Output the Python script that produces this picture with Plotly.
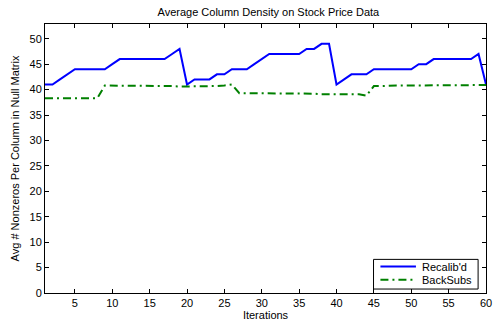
import plotly.graph_objects as go

iterations = list(range(1, 61))
recalib = [41, 41, 42, 43, 44, 44, 44, 44, 44, 45,
           46, 46, 46, 46, 46, 46, 46, 47, 48, 41,
           42, 42, 42, 43, 43, 44, 44, 44, 45, 46,
           47, 47, 47, 47, 47, 48, 48, 49, 49, 41,
           42, 43, 43, 43, 44, 44, 44, 44, 44, 44,
           45, 45, 46, 46, 46, 46, 46, 46, 47, 41]
backsubs = [38.3, 38.3, 38.3, 38.3, 38.3, 38.3, 38.3, 38.3, 40.8, 40.8,
            40.8, 40.8, 40.8, 40.7, 40.7, 40.7, 40.7, 40.7, 40.6, 40.6,
            40.7, 40.7, 40.7, 40.7, 40.8, 41.0, 39.3, 39.3, 39.3, 39.3,
            39.3, 39.2, 39.2, 39.2, 39.2, 39.2, 39.2, 39.1, 39.1, 39.1,
            39.1, 39.1, 39.1, 38.8, 40.7, 40.7, 40.8, 40.8, 40.8, 40.8,
            40.9, 40.9, 40.9, 40.9, 40.9, 40.9, 40.9, 40.9, 40.9, 40.9]
x_ticks = [5, 10, 15, 20, 25, 30, 35, 40, 45, 50, 55, 60]
y_ticks = [0, 5, 10, 15, 20, 25, 30, 35, 40, 45, 50]

font = "Liberation Sans, Arial, sans-serif"
W, H = 497, 325
L, R, T, B = 45, 5, 24, 29
pw, ph = W - L - R, H - T - B

def px(x):
    return (x - L) / pw

def py(y):
    return (H - B - y) / ph

series = [("Recalib'd", recalib, dict(color="#0000ff", width=2)),
          ("BackSubs", backsubs, dict(color="#008000", width=2, dash="8px,4px,2px,4px"))]

fig = go.Figure()
for name, vals, line in series:
    fig.add_trace(go.Scatter(x=iterations, y=vals, mode="lines", name=name, line=line))

# legend box drawn manually (MATLAB style, compact)
shapes = [dict(type="rect", xref="paper", yref="paper",
               x0=px(378), x1=px(484), y0=py(292), y1=py(262),
               line=dict(color="black", width=1), fillcolor="white", layer="above")]
annotations = []
for i, (name, vals, line) in enumerate(series):
    yy = 269.3 + i * 13.4
    shapes.append(dict(type="line", xref="paper", yref="paper",
                       x0=px(385), x1=px(421), y0=py(yy), y1=py(yy),
                       line=line, layer="above"))
    annotations.append(dict(text=name, xref="paper", yref="paper", x=px(425), y=py(yy),
                            xanchor="left", yanchor="middle", showarrow=False,
                            font=dict(family=font, size=11, color="black")))

axis_common = dict(showline=True, linecolor="black", linewidth=1, mirror="ticks",
                   ticks="inside", ticklen=4, tickcolor="black", showgrid=False,
                   zeroline=False, tickfont=dict(family=font, size=11, color="black"))

fig.update_layout(
    width=W, height=H,
    margin=dict(l=L, r=R, t=T, b=B),
    plot_bgcolor="white", paper_bgcolor="white",
    font=dict(family=font, size=11, color="black"),
    title=dict(text="Average Column Density on Stock Price Data", x=0.54, xanchor="center",
               y=1 - 12/325, yanchor="middle", font=dict(family=font, size=11, color="black")),
    xaxis=dict(range=[1, 60], tickvals=x_ticks, ticklabeloverflow="allow",
               title=dict(text="Iterations", standoff=3, font=dict(family=font, size=11)),
               **axis_common),
    yaxis=dict(range=[0, 52.9], tickvals=y_ticks,
               title=dict(text="Avg # Nonzeros Per Column in Null Matrix", standoff=7,
                          font=dict(family=font, size=11)),
               **axis_common),
    showlegend=False,
    shapes=shapes,
    annotations=annotations,
)

fig.write_html("out.html")
